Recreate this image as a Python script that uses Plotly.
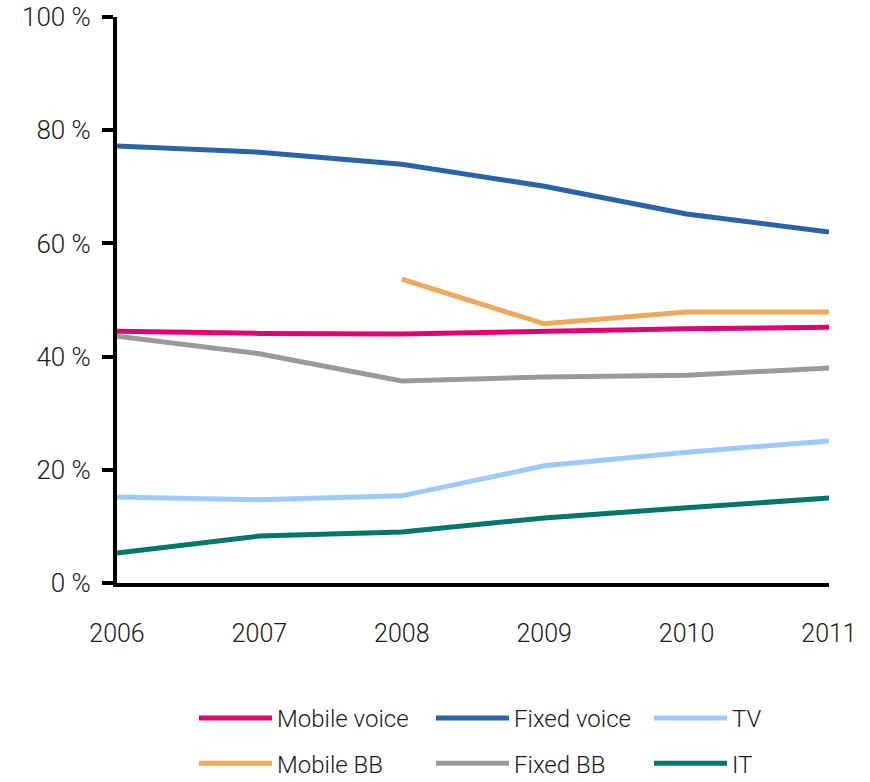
import plotly.graph_objects as go

years = [2006, 2007, 2008, 2009, 2010, 2011]
year_labels = ["2006", "2007", "2008", "2009", "2010", "2011"]
y_ticks = [0, 20, 40, 60, 80, 100]
y_tick_labels = ["0 %", "20 %", "40 %", "60 %", "80 %", "100 %"]

mobile_voice = [44.5, 44.1, 44.0, 44.5, 44.9, 45.2]
fixed_voice = [77.2, 76.1, 74.0, 70.1, 65.2, 62.0]
tv = [15.2, 14.7, 15.4, 20.7, 23.1, 25.1]
mobile_bb = [None, None, 53.7, 45.8, 47.9, 47.9]
fixed_bb = [43.6, 40.5, 35.7, 36.4, 36.7, 38.0]
it = [5.3, 8.3, 9.0, 11.5, 13.3, 15.0]

series = [
    ("Mobile voice", mobile_voice, "#E20074", "legend"),
    ("Fixed voice", fixed_voice, "#2A64A8", "legend2"),
    ("TV", tv, "#9CCBFB", "legend3"),
    ("Mobile BB", mobile_bb, "#EDAA5C", "legend"),
    ("Fixed BB", fixed_bb, "#9A9A9A", "legend2"),
    ("IT", it, "#00776B", "legend3"),
]

FONT = "Roboto, Liberation Sans, sans-serif"
TXT = "#1a1a1a"

fig = go.Figure()
for name, vals, color, lg in series:
    fig.add_trace(go.Scatter(
        x=years, y=vals, name=name, mode="lines",
        line=dict(color=color, width=5),
        legend=lg, legendgroup=name, connectgaps=False,
    ))

legend_common = dict(
    orientation="v", xref="container", yref="container",
    xanchor="left", yanchor="top",
    font=dict(family=FONT, size=24, color=TXT, weight=300),
    itemwidth=73, tracegroupgap=11, bgcolor="rgba(0,0,0,0)",
    traceorder="grouped",
)
legend_top = 1 - 696 / 782

fig.update_layout(
    width=870, height=782,
    margin=dict(l=117, r=41, t=17, b=199, autoexpand=False),
    paper_bgcolor="white", plot_bgcolor="white",
    font=dict(family=FONT, size=26, color=TXT, weight=300),
    xaxis=dict(
        range=[2006, 2011], tickvals=years, ticktext=year_labels,
        showline=True, linecolor="black", linewidth=4,
        ticks="", showgrid=False, zeroline=False,
        ticklabelstandoff=25, automargin=False,
        tickfont=dict(family=FONT, size=25, color=TXT, weight=300),
    ),
    yaxis=dict(
        range=[0, 100], tickvals=y_ticks, ticktext=y_tick_labels,
        showline=True, linecolor="black", linewidth=4,
        ticks="outside", ticklen=11, tickwidth=4, tickcolor="black",
        showgrid=False, zeroline=False, automargin=False,
        ticklabelstandoff=6,
        tickfont=dict(family=FONT, size=26, color=TXT, weight=300),
    ),
    legend=dict(x=194 / 870, y=legend_top, **legend_common),
    legend2=dict(x=431 / 870, y=legend_top, **legend_common),
    legend3=dict(x=649 / 870, y=legend_top, **legend_common),
)

fig.write_html(
    "out.html",
    config={"displayModeBar": False},
    post_script="document.body.style.margin='0px';",
)
